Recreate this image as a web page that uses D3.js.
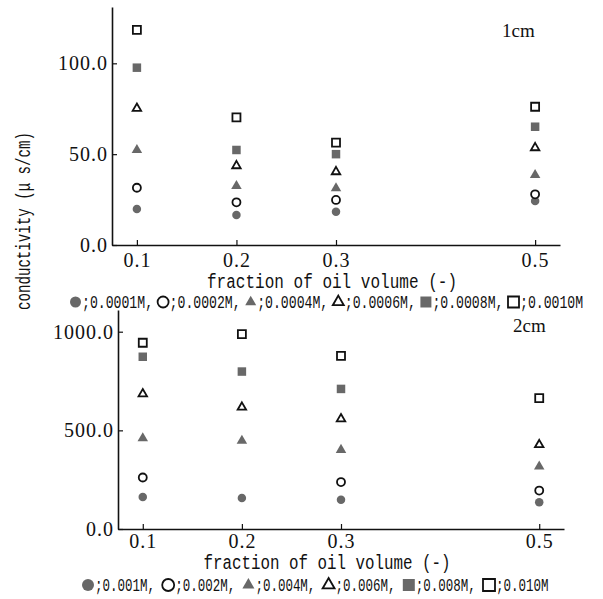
<!DOCTYPE html>
<html><head><meta charset="utf-8">
<script src="https://cdn.jsdelivr.net/npm/d3@7"></script>
<style>
html,body{margin:0;padding:0;background:#fff;}
svg{display:block;}
</style></head>
<body>
<script>
// ---- data ----
const fractions = [0.1, 0.2, 0.3, 0.5];
const xTickValues = [0.1, 0.2, 0.3, 0.5];
const topYTicks = [0, 50, 100];
const botYTicks = [0, 500, 1000];
const markerTypes = ["circleFill", "circleOpen", "triFill", "triOpen", "squareFill", "squareOpen"];
const topLegendLabels = [";0.0001M,", ";0.0002M,", ";0.0004M,", ";0.0006M,", ";0.0008M,", ";0.0010M"];
const botLegendLabels = [";0.001M,", ";0.002M,", ";0.004M,", ";0.006M,", ";0.008M,", ";0.010M"];
// top panel (1cm), values per concentration at fractions 0.1,0.2,0.3,0.5
const top_c1 = [19.8, 16.5, 18.3, 24.2];
const top_c2 = [31.5, 23.5, 24.8, 27.9];
const top_c4 = [52.3, 32.5, 31.2, 38.5];
const top_c6 = [75.2, 43.6, 40.3, 53.5];
const top_c8 = [97.6, 52.3, 50.0, 65.1];
const top_c10 = [118.4, 70.3, 56.3, 76.1];
// bottom panel (2cm)
const bot_c1 = [162, 157, 148, 135];
const bot_c2 = [261, null, 238, 195];
const bot_c4 = [460, 447, 401, 317];
const bot_c6 = [685, 617, 558, 427];
const bot_c8 = [873, 798, 710, null];
const bot_c10 = [944, 988, 877, 663];
const xLabel = "fraction of oil volume (-)";
const yLabel = "conductivity (μ s/cm)";

const W = 603, H = 599;
const svg = d3.select("body").append("svg").attr("width", W).attr("height", H);
const gray = "#686868";
const serif = "'Liberation Serif', 'DejaVu Serif', serif";
const mono = "'Liberation Mono', 'DejaVu Sans Mono', monospace";

function drawMarker(g, type, x, y, size) {
  const filled = type.endsWith("Fill");
  let sym = d3.symbolCircle, area = Math.PI * (size / 2) * (size / 2);
  if (type.startsWith("tri")) { sym = d3.symbolTriangle; area = size * size * 0.433; }
  if (type.startsWith("square")) { sym = d3.symbolSquare; area = size * size; }
  g.append("path")
    .attr("d", d3.symbol().type(sym).size(area)())
    .attr("transform", `translate(${x},${y})`)
    .attr("fill", filled ? gray : "#fff")
    .attr("stroke", filled ? "none" : "#111")
    .attr("stroke-width", filled ? 0 : 1.8);
}

function panel(cfg) {
  const g = svg.append("g");
  const x = d3.scaleLinear().domain([0.075, 0.525]).range(cfg.xr);
  const y = d3.scaleLinear().domain(cfg.yd).range(cfg.yr);
  const ax = g.append("g").attr("transform", `translate(0,${cfg.yr[0]})`)
    .call(d3.axisBottom(x).tickValues(xTickValues).tickFormat(d3.format(".1f")).tickSizeInner(-5).tickSizeOuter(0).tickPadding(cfg.xpad));
  const ay = g.append("g").attr("transform", `translate(${cfg.xr[0]},0)`)
    .call(d3.axisLeft(y).tickValues(cfg.yt).tickFormat(d3.format(".1f")).tickSizeInner(-5).tickSizeOuter(0).tickPadding(4));
  [ax, ay].forEach(a => {
    a.select(".domain").attr("stroke", "#111").attr("stroke-width", 1.6);
    a.selectAll(".tick line").attr("stroke", "#111").attr("stroke-width", 1.2);
    a.selectAll("text").attr("fill", "#111").style("font-family", serif).style("font-size", "20px").style("letter-spacing", "1px");
  });
  cfg.series.forEach((vals, i) => {
    vals.forEach((v, j) => {
      if (v == null) return;
      drawMarker(g, markerTypes[i], x(fractions[j]), y(v), cfg.ms[i]);
    });
  });
  g.append("text").attr("x", cfg.tag[0]).attr("y", cfg.tag[1]).text(cfg.tagText)
    .style("font-family", serif).style("font-size", "19px").attr("fill", "#111");
  g.append("text").attr("x", cfg.xl[0]).attr("y", cfg.xl[1]).attr("text-anchor", "middle")
    .attr("textLength", cfg.xl[2]).attr("lengthAdjust", "spacingAndGlyphs")
    .text(xLabel).style("font-family", mono).style("font-size", "20px").attr("fill", "#111");
  // legend (monospace 18px -> 10.8px per char, squeezed horizontally)
  const lg = g.append("g");
  const sx = cfg.leg.cw / 10.8;
  cfg.legLabels.forEach((lab, i) => {
    const x0 = cfg.leg.x0 + i * cfg.leg.step;
    const s = cfg.leg.sym;
    drawMarker(lg, markerTypes[i], x0 + s / 2, cfg.leg.y, s);
    lg.append("text")
      .attr("transform", `translate(${x0 + s + 1},${cfg.leg.y + 6}) scale(${sx},1)`)
      .text(lab).style("font-family", mono).style("font-size", "18px").attr("fill", "#111");
  });
}

panel({
  xr: [112, 560], yd: [0, 131], yr: [245, 7], yt: topYTicks, xpad: 8,
  series: [top_c1, top_c2, top_c4, top_c6, top_c8, top_c10],
  ms: [8.5, 8, 10.5, 8.5, 8.5, 8],
  tag: [502, 37], tagText: "1cm",
  xl: [332, 288, 250],
  legLabels: topLegendLabels,
  leg: { x0: 70, step: 87.6, y: 302, sym: 11, cw: 7.9 }
});
panel({
  xr: [118, 564], yd: [0, 1110], yr: [529, 310], yt: botYTicks, xpad: 5,
  series: [bot_c1, bot_c2, bot_c4, bot_c6, bot_c8, bot_c10],
  ms: [8.5, 8, 10.5, 8.5, 8.5, 8],
  tag: [513, 332], tagText: "2cm",
  xl: [327, 569, 247],
  legLabels: botLegendLabels,
  leg: { x0: 82, step: 80.2, y: 585, sym: 12, cw: 7.5 }
});

// y axis title
svg.append("text").attr("transform", "translate(30,221) rotate(-90)")
  .attr("text-anchor", "middle").attr("textLength", 178).attr("lengthAdjust", "spacingAndGlyphs")
  .text(yLabel).style("font-family", mono).style("font-size", "20px").attr("fill", "#111");
</script>
</body></html>
